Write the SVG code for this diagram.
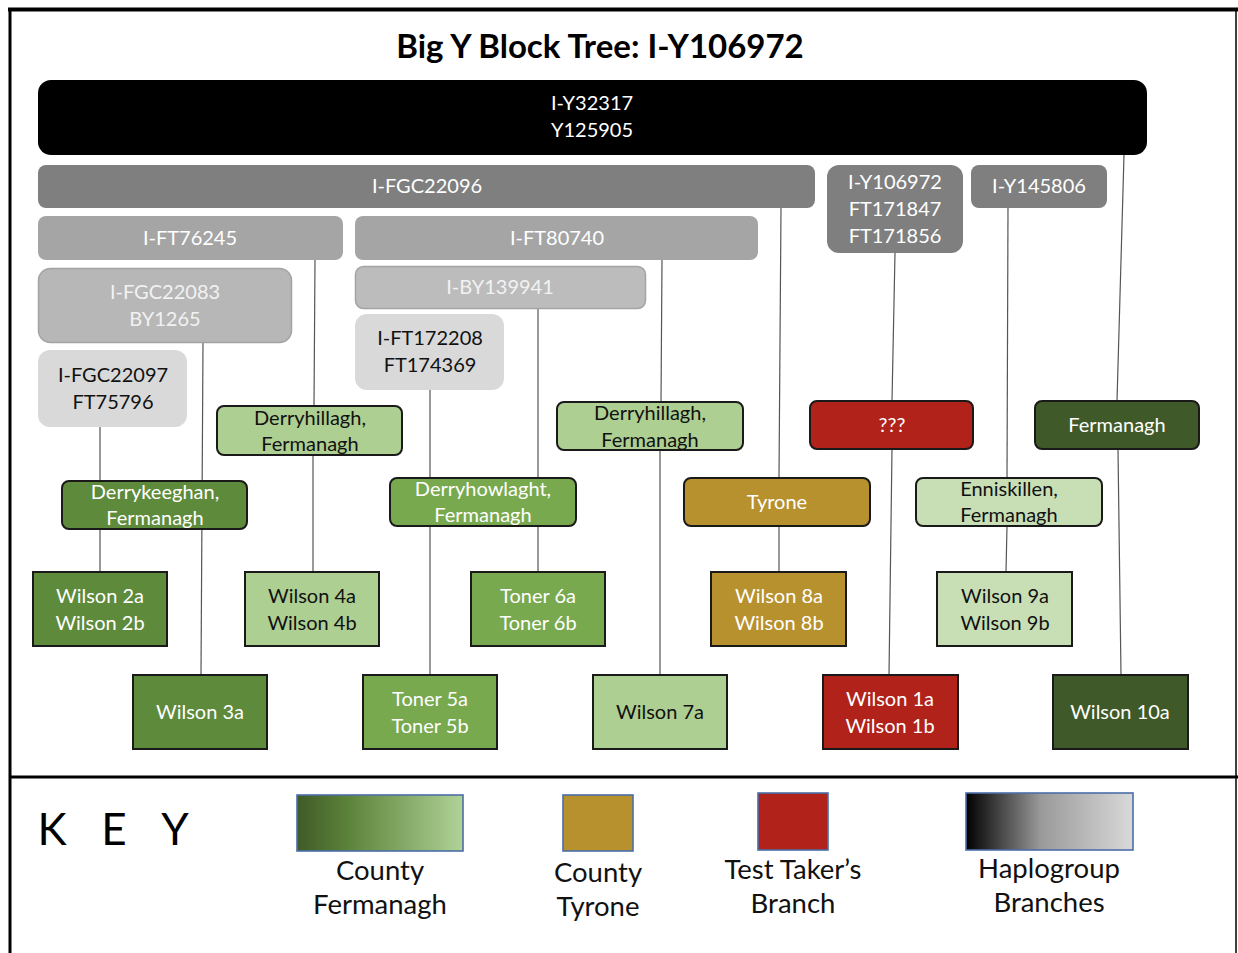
<svg xmlns="http://www.w3.org/2000/svg" width="1238" height="953" viewBox="0 0 1238 953">
  <defs>
    <linearGradient id="gFerm" x1="0" y1="0" x2="1" y2="0">
      <stop offset="0" stop-color="#3f5a28"/>
      <stop offset="0.3" stop-color="#5b8239"/>
      <stop offset="1" stop-color="#b0d297"/>
    </linearGradient>
    <linearGradient id="gHaplo" x1="0" y1="0" x2="1" y2="0">
      <stop offset="0" stop-color="#000000"/>
      <stop offset="0.45" stop-color="#9a9a9a"/>
      <stop offset="1" stop-color="#d9d9d9"/>
    </linearGradient>
    <style>
      text { font-family: Lato, "Liberation Sans", sans-serif; text-anchor: middle; }
      .t { font-size: 20px; }
      .w { fill: #ffffff; }
      .wl { fill: #f2f2f2; }
      .k { fill: #111111; }
      .conn line { stroke: #555555; stroke-width: 1.2; }
      .loc { stroke: #1a1a1a; stroke-width: 2; }
      .leaf { stroke: #1a1a1a; stroke-width: 2; }
      .key { stroke: #4a6ea8; stroke-width: 1.6; }
      .lbl { font-size: 27.5px; fill: #111111; }
    </style>
  </defs>

  <rect x="0" y="0" width="1238" height="953" fill="#ffffff"/>

  <!-- frame -->
  <g id="frame" fill="none" stroke="#000000">
    <line x1="8" y1="9.5" x2="1238" y2="9.5" stroke-width="4"/>
    <line x1="10" y1="8" x2="10" y2="953" stroke-width="3"/>
    <line x1="1236" y1="10" x2="1236" y2="953" stroke-width="1.5"/>
    <line x1="10" y1="777" x2="1238" y2="777" stroke-width="3"/>
  </g>

  <text x="600" y="58" font-size="33" font-weight="bold" fill="#000000">Big Y Block Tree: I-Y106972</text>

  <!-- connectors -->
  <g id="connectors" class="conn">
    <line x1="1124" y1="155" x2="1117" y2="401"/>
    <line x1="1118" y1="449" x2="1121" y2="675"/>
    <line x1="781" y1="208" x2="779" y2="478"/>
    <line x1="779" y1="526" x2="779" y2="572"/>
    <line x1="895" y1="253" x2="892" y2="401"/>
    <line x1="892" y1="449" x2="889" y2="675"/>
    <line x1="1008" y1="208" x2="1007" y2="478"/>
    <line x1="1007" y1="526" x2="1006" y2="572"/>
    <line x1="315" y1="260" x2="314" y2="406"/>
    <line x1="313" y1="455" x2="313" y2="572"/>
    <line x1="203" y1="343" x2="201" y2="675"/>
    <line x1="100" y1="427" x2="100" y2="481"/>
    <line x1="100" y1="529" x2="100" y2="572"/>
    <line x1="662" y1="260" x2="661" y2="402"/>
    <line x1="660" y1="450" x2="660" y2="675"/>
    <line x1="538" y1="309" x2="538" y2="478"/>
    <line x1="538" y1="526" x2="538" y2="572"/>
    <line x1="430" y1="390" x2="430" y2="675"/>
  </g>

  <!-- haplogroup branches -->
  <g id="n-Y32317">
    <rect x="38" y="80" width="1109" height="75" rx="13" fill="#000000"/>
    <text class="t w" x="592" y="110">I-Y32317</text>
    <text class="t w" x="592" y="137">Y125905</text>
  </g>
  <g id="n-FGC22096">
    <rect x="38" y="165" width="777" height="43" rx="8" fill="#7f7f7f"/>
    <text class="t w" x="427" y="193">I-FGC22096</text>
  </g>
  <g id="n-Y106972">
    <rect x="827" y="165" width="136" height="88" rx="12" fill="#7f7f7f"/>
    <text class="t w" x="895" y="189">I-Y106972</text>
    <text class="t w" x="895" y="216">FT171847</text>
    <text class="t w" x="895" y="243">FT171856</text>
  </g>
  <g id="n-Y145806">
    <rect x="971" y="165" width="136" height="43" rx="8" fill="#7f7f7f"/>
    <text class="t w" x="1039" y="193">I-Y145806</text>
  </g>
  <g id="n-FT76245">
    <rect x="38" y="216" width="305" height="44" rx="8" fill="#a5a5a5"/>
    <text class="t w" x="190" y="245">I-FT76245</text>
  </g>
  <g id="n-FT80740">
    <rect x="355" y="216" width="403" height="44" rx="8" fill="#a5a5a5"/>
    <text class="t w" x="557" y="245">I-FT80740</text>
  </g>
  <g id="n-FGC22083">
    <rect x="38.5" y="268.5" width="253" height="74" rx="12" fill="#b7b7b7" stroke="#a3a3a3" stroke-width="1.5"/>
    <text class="t wl" x="165" y="299">I-FGC22083</text>
    <text class="t wl" x="165" y="326">BY1265</text>
  </g>
  <g id="n-BY139941">
    <rect x="355.5" y="266.5" width="290" height="42" rx="8" fill="#bcbcbc" stroke="#a3a3a3" stroke-width="1.5"/>
    <text class="t wl" x="500" y="294">I-BY139941</text>
  </g>
  <g id="n-FGC22097">
    <rect x="38" y="350" width="149" height="77" rx="12" fill="#d9d9d9"/>
    <text class="t k" x="113" y="382">I-FGC22097</text>
    <text class="t k" x="113" y="409">FT75796</text>
  </g>
  <g id="n-FT172208">
    <rect x="355" y="314" width="149" height="76" rx="12" fill="#d9d9d9"/>
    <text class="t k" x="430" y="345">I-FT172208</text>
    <text class="t k" x="430" y="372">FT174369</text>
  </g>

  <!-- locations -->
  <g id="n-derryhillagh-1">
    <rect class="loc" x="217" y="406" width="185" height="49" rx="7" fill="#aecf92"/>
    <text class="t k" x="310" y="425">Derryhillagh,</text>
    <text class="t k" x="310" y="451">Fermanagh</text>
  </g>
  <g id="n-derryhillagh-2">
    <rect class="loc" x="557" y="402" width="186" height="48" rx="7" fill="#aecf92"/>
    <text class="t k" x="650" y="420">Derryhillagh,</text>
    <text class="t k" x="650" y="447">Fermanagh</text>
  </g>
  <g id="n-derrykeeghan">
    <rect class="loc" x="62" y="481" width="185" height="48" rx="7" fill="#5e8a3c"/>
    <text class="t w" x="155" y="499">Derrykeeghan,</text>
    <text class="t w" x="155" y="525">Fermanagh</text>
  </g>
  <g id="n-derryhowlaght">
    <rect class="loc" x="390" y="478" width="186" height="48" rx="7" fill="#78a94f"/>
    <text class="t w" x="483" y="496">Derryhowlaght,</text>
    <text class="t w" x="483" y="522">Fermanagh</text>
  </g>
  <g id="n-tyrone">
    <rect class="loc" x="684" y="478" width="186" height="48" rx="7" fill="#b8912f"/>
    <text class="t w" x="777" y="509">Tyrone</text>
  </g>
  <g id="n-unknown">
    <rect class="loc" x="810" y="401" width="163" height="48" rx="7" fill="#b0221a"/>
    <text class="t w" x="892" y="432">???</text>
  </g>
  <g id="n-fermanagh">
    <rect class="loc" x="1035" y="401" width="164" height="48" rx="7" fill="#3f5a28"/>
    <text class="t w" x="1117" y="432">Fermanagh</text>
  </g>
  <g id="n-enniskillen">
    <rect class="loc" x="916" y="478" width="186" height="48" rx="7" fill="#c8dfb6"/>
    <text class="t k" x="1009" y="496">Enniskillen,</text>
    <text class="t k" x="1009" y="522">Fermanagh</text>
  </g>

  <!-- test takers -->
  <g id="n-wilson2">
    <rect class="leaf" x="33" y="572" width="134" height="74" fill="#5e8a3c"/>
    <text class="t w" x="100" y="603">Wilson 2a</text>
    <text class="t w" x="100" y="630">Wilson 2b</text>
  </g>
  <g id="n-wilson4">
    <rect class="leaf" x="245" y="572" width="134" height="74" fill="#aecf92"/>
    <text class="t k" x="312" y="603">Wilson 4a</text>
    <text class="t k" x="312" y="630">Wilson 4b</text>
  </g>
  <g id="n-toner6">
    <rect class="leaf" x="471" y="572" width="134" height="74" fill="#78a94f"/>
    <text class="t w" x="538" y="603">Toner 6a</text>
    <text class="t w" x="538" y="630">Toner 6b</text>
  </g>
  <g id="n-wilson8">
    <rect class="leaf" x="711" y="572" width="135" height="74" fill="#b8912f"/>
    <text class="t w" x="779" y="603">Wilson 8a</text>
    <text class="t w" x="779" y="630">Wilson 8b</text>
  </g>
  <g id="n-wilson9">
    <rect class="leaf" x="937" y="572" width="135" height="74" fill="#c8dfb6"/>
    <text class="t k" x="1005" y="603">Wilson 9a</text>
    <text class="t k" x="1005" y="630">Wilson 9b</text>
  </g>
  <g id="n-wilson3">
    <rect class="leaf" x="133" y="675" width="134" height="74" fill="#5e8a3c"/>
    <text class="t w" x="200" y="719">Wilson 3a</text>
  </g>
  <g id="n-toner5">
    <rect class="leaf" x="363" y="675" width="134" height="74" fill="#78a94f"/>
    <text class="t w" x="430" y="706">Toner 5a</text>
    <text class="t w" x="430" y="733">Toner 5b</text>
  </g>
  <g id="n-wilson7">
    <rect class="leaf" x="593" y="675" width="134" height="74" fill="#aecf92"/>
    <text class="t k" x="660" y="719">Wilson 7a</text>
  </g>
  <g id="n-wilson1">
    <rect class="leaf" x="823" y="675" width="135" height="74" fill="#b0221a"/>
    <text class="t w" x="890" y="706">Wilson 1a</text>
    <text class="t w" x="890" y="733">Wilson 1b</text>
  </g>
  <g id="n-wilson10">
    <rect class="leaf" x="1053" y="675" width="135" height="74" fill="#3f5a28"/>
    <text class="t w" x="1120" y="719">Wilson 10a</text>
  </g>

  <!-- key -->
  <g id="key">
    <text x="52" y="845" font-size="44" fill="#000000">K</text>
    <text x="114" y="845" font-size="44" fill="#000000">E</text>
    <text x="175" y="845" font-size="44" fill="#000000">Y</text>

    <rect class="key" x="297" y="795" width="166" height="56" fill="url(#gFerm)"/>
    <text class="lbl" x="380" y="880">County</text>
    <text class="lbl" x="380" y="914">Fermanagh</text>

    <rect class="key" x="563" y="795" width="70" height="56" fill="#b8912f"/>
    <text class="lbl" x="598" y="882">County</text>
    <text class="lbl" x="598" y="916">Tyrone</text>

    <rect class="key" x="758" y="793" width="70" height="57" fill="#b0221a"/>
    <text class="lbl" x="793" y="879">Test Taker’s</text>
    <text class="lbl" x="793" y="913">Branch</text>

    <rect class="key" x="966" y="793" width="167" height="57" fill="url(#gHaplo)"/>
    <text class="lbl" x="1049" y="878">Haplogroup</text>
    <text class="lbl" x="1049" y="912">Branches</text>
  </g>
</svg>
